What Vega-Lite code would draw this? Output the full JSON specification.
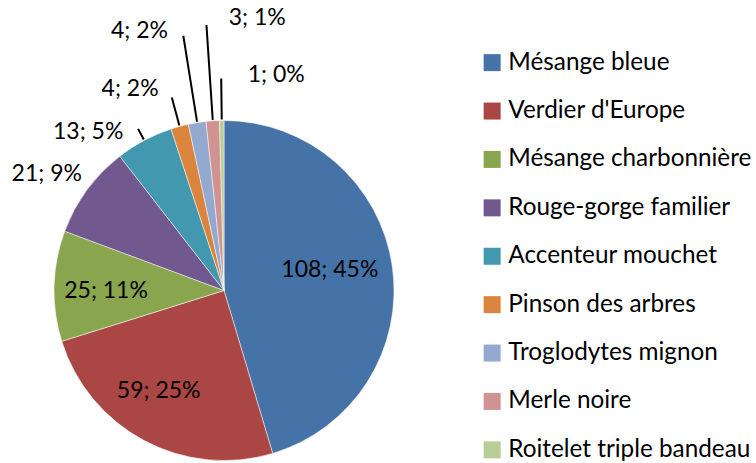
{
  "$schema": "https://vega.github.io/schema/vega-lite/v6.json",
  "autosize": {"type": "none"},
  "width": 340,
  "height": 339,
  "padding": {"left": 54, "top": 121, "right": 362, "bottom": 3},
  "background": "#ffffff",
  "config": {"view": {"stroke": null}, "text": {"font": "Lato", "fontSize": 23, "color": "#000000"}},
  "data": {"values": [
    {"order": 1, "species": "Mésange bleue", "value": 108, "label": "108; 45%"},
    {"order": 2, "species": "Verdier d'Europe", "value": 59, "label": "59; 25%"},
    {"order": 3, "species": "Mésange charbonnière", "value": 25, "label": "25; 11%"},
    {"order": 4, "species": "Rouge-gorge familier", "value": 21, "label": "21; 9%"},
    {"order": 5, "species": "Accenteur mouchet", "value": 13, "label": "13; 5%"},
    {"order": 6, "species": "Pinson des arbres", "value": 4, "label": "4; 2%"},
    {"order": 7, "species": "Troglodytes mignon", "value": 4, "label": "4; 2%"},
    {"order": 8, "species": "Merle noire", "value": 3, "label": "3; 1%"},
    {"order": 9, "species": "Roitelet triple bandeau", "value": 1, "label": "1; 0%"}
  ]},
  "encoding": {
    "theta": {"field": "value", "type": "quantitative", "stack": true},
    "order": {"field": "order", "type": "quantitative"}
  },
  "layer": [
    {
      "mark": {"type": "arc", "radius": 170, "stroke": "#ffffff", "strokeWidth": 0.5},
      "encoding": {
        "color": {
          "field": "species", "type": "nominal",
          "scale": {
            "domain": ["Mésange bleue", "Verdier d'Europe", "Mésange charbonnière", "Rouge-gorge familier", "Accenteur mouchet", "Pinson des arbres", "Troglodytes mignon", "Merle noire", "Roitelet triple bandeau"],
            "range": ["#4572A7", "#AA4643", "#89A54E", "#71588F", "#4198AF", "#DB843D", "#93A9CF", "#D19392", "#B9CD96"]
          },
          "legend": {
            "title": null, "orient": "none", "legendX": 426, "legendY": -70.5,
            "symbolType": "square", "symbolSize": 289, "symbolStrokeWidth": 0,
            "labelFont": "Lato", "labelFontSize": 24.3, "labelColor": "#000000", "labelOffset": 4,
            "rowPadding": 23.4, "labelLimit": 400
          }
        }
      }
    },
    {"mark": {"type": "arc", "radius": 183, "radius2": 171, "padAngle": 3.14, "fill": "transparent", "strokeWidth": 2},
     "encoding": {"stroke": {"condition": {"test": "datum.order === 5", "value": "#000000"}, "value": "transparent"}}},
    {"mark": {"type": "arc", "radius": 200, "radius2": 171, "padAngle": 3.14, "fill": "transparent", "strokeWidth": 2},
     "encoding": {"stroke": {"condition": {"test": "datum.order === 6", "value": "#000000"}, "value": "transparent"}}},
    {"mark": {"type": "arc", "radius": 258, "radius2": 171, "padAngle": 3.14, "fill": "transparent", "strokeWidth": 2},
     "encoding": {"stroke": {"condition": {"test": "datum.order === 7", "value": "#000000"}, "value": "transparent"}}},
    {"mark": {"type": "arc", "radius": 266, "radius2": 171, "padAngle": 3.14, "fill": "transparent", "strokeWidth": 2},
     "encoding": {"stroke": {"condition": {"test": "datum.order === 8", "value": "#000000"}, "value": "transparent"}}},
    {"mark": {"type": "arc", "radius": 212, "radius2": 171, "padAngle": 3.14, "fill": "transparent", "strokeWidth": 2},
     "encoding": {"stroke": {"condition": {"test": "datum.order === 9", "value": "#000000"}, "value": "transparent"}}},
    {"mark": {"type": "text", "radius": 108, "dx": -1, "dy": -5, "align": "center", "baseline": "middle"},
     "encoding": {"text": {"condition": {"test": "datum.order === 1", "field": "label"}, "value": ""}}},
    {"mark": {"type": "text", "radius": 120, "dx": -9, "dy": -5, "align": "center", "baseline": "middle"},
     "encoding": {"text": {"condition": {"test": "datum.order === 2", "field": "label"}, "value": ""}}},
    {"mark": {"type": "text", "radius": 118, "dx": 0, "dy": 4, "align": "center", "baseline": "middle"},
     "encoding": {"text": {"condition": {"test": "datum.order === 3", "field": "label"}, "value": ""}}},
    {"mark": {"type": "text", "radius": 215, "dx": -4, "dy": 11, "align": "center", "baseline": "middle"},
     "encoding": {"text": {"condition": {"test": "datum.order === 4", "field": "label"}, "value": ""}}},
    {"mark": {"type": "text", "radius": 200, "dx": -42, "dy": 18, "align": "center", "baseline": "middle"},
     "encoding": {"text": {"condition": {"test": "datum.order === 5", "field": "label"}, "value": ""}}},
    {"mark": {"type": "text", "radius": 218, "dx": -37, "dy": 9, "align": "center", "baseline": "middle"},
     "encoding": {"text": {"condition": {"test": "datum.order === 6", "field": "label"}, "value": ""}}},
    {"mark": {"type": "text", "radius": 270, "dx": -42, "dy": 7, "align": "center", "baseline": "middle"},
     "encoding": {"text": {"condition": {"test": "datum.order === 7", "field": "label"}, "value": ""}}},
    {"mark": {"type": "text", "radius": 270, "dx": 51, "dy": -3, "align": "center", "baseline": "middle"},
     "encoding": {"text": {"condition": {"test": "datum.order === 8", "field": "label"}, "value": ""}}},
    {"mark": {"type": "text", "radius": 215, "dx": 55, "dy": -1, "align": "center", "baseline": "middle"},
     "encoding": {"text": {"condition": {"test": "datum.order === 9", "field": "label"}, "value": ""}}}
  ]
}
